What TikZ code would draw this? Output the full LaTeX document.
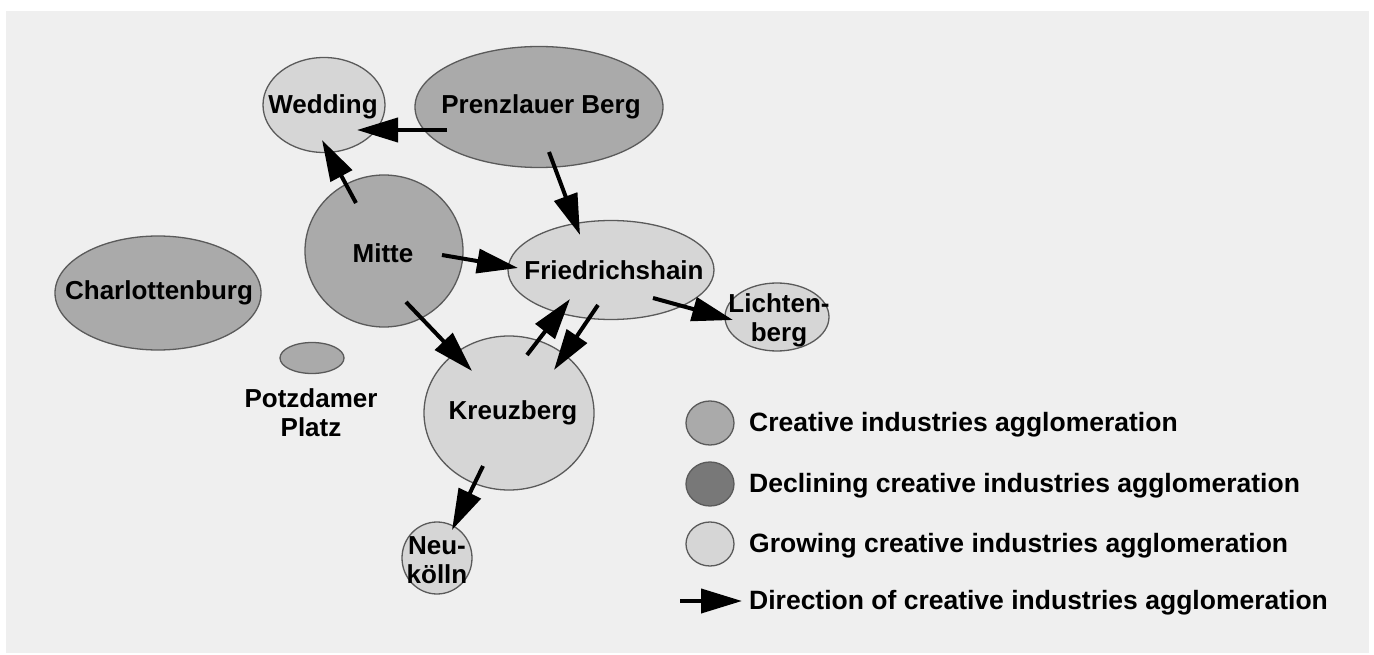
\documentclass[tikz,border=0pt]{standalone}
\usepackage{fontspec}
\setmainfont{Liberation Sans}
\usetikzlibrary{shapes.geometric,arrows.meta}
\definecolor{panel}{HTML}{EFEFEF}
\definecolor{creative}{HTML}{AAAAAA}
\definecolor{declining}{HTML}{787878}
\definecolor{growing}{HTML}{D6D6D6}
\definecolor{rim}{HTML}{5A5A5A}
\tikzset{
  areabox/.style={ellipse, draw=rim, line width=1.3pt, inner sep=0pt, align=center,
    font=\fontsize{26}{29}\selectfont\bfseries},
  creatarea/.style={areabox, fill=creative},
  declarea/.style={areabox, fill=declining},
  growarea/.style={areabox, fill=growing},
  dirarrow/.style={line width=4pt, -{Triangle[length=41pt,width=24pt]}},
  legtext/.style={anchor=west, inner sep=0pt, font=\fontsize{26.5}{29}\selectfont\bfseries},
  plaintext/.style={inner sep=0pt, align=center, font=\fontsize{26}{29}\selectfont\bfseries}
}
\begin{document}
\begin{tikzpicture}[x=1pt,y=-1pt]
\useasboundingbox (0,0) rectangle (1374,655);
\fill[white] (0,0) rectangle (1374,655);
\fill[panel] (6,11) rectangle (1369,653);
% areas
\node[growarea,  minimum width=122pt, minimum height=95pt]  (wed) at (324,105) {};
\node[creatarea, minimum width=248pt, minimum height=121pt] (pb)  at (539,107) {};
\node[creatarea, minimum width=158pt, minimum height=152pt] (mi)  at (384,251) {};
\node[creatarea, minimum width=206pt, minimum height=114pt] (ch)  at (158,293) {};
\node[growarea,  minimum width=206pt, minimum height=99pt]  (fh)  at (611,270) {};
\node[growarea,  minimum width=104pt, minimum height=68pt]  (lb)  at (777,317) {};
\node[creatarea, minimum width=64pt,  minimum height=31pt]  (pp)  at (312,358) {};
\node[growarea,  minimum width=170pt, minimum height=154pt] (kb)  at (509,413) {};
\node[growarea,  minimum width=70pt,  minimum height=72pt]  (nk)  at (437,558) {};
% labels
\node[plaintext] (wedt) at (323,107) {Wedding};
\node[plaintext] (pbt)  at (541,107) {Prenzlauer Berg};
\node[plaintext] (mit)  at (383,253) {Mitte};
\node[plaintext] (cht)  at (159,293) {Charlottenburg};
\node[plaintext] (fht)  at (614,270) {Friedrichshain};
\node[plaintext] (lbt)  at (779,320) {Lichten-\\berg};
\node[plaintext] (ppt)  at (311,413) {Potzdamer\\Platz};
\node[plaintext] (kbt)  at (513,413) {Kreuzberg};
\node[plaintext] (nkt)  at (437,560) {Neu-\\kölln};
% arrows
\draw[dirarrow] ([shift={(-92,23)}]pb.center) -- ([shift={(33,25)}]wed.center);
\draw[dirarrow] ([shift={(-28,-48)}]mi.center) -- ([shift={(-2,35)}]wed.center);
\draw[dirarrow] ([shift={(10,45)}]pb.center) -- ([shift={(-31,-35)}]fh.center);
\draw[dirarrow] ([shift={(58,4)}]mi.center) -- ([shift={(-93,-2)}]fh.center);
\draw[dirarrow] ([shift={(22,51)}]mi.center) -- ([shift={(-37,-42)}]kb.center);
\draw[dirarrow] ([shift={(18,-58)}]kb.center) -- ([shift={(-41,29)}]fh.center);
\draw[dirarrow] ([shift={(-13,35)}]fh.center) -- ([shift={(45,-43)}]kb.center);
\draw[dirarrow] ([shift={(42,28)}]fh.center) -- ([shift={(-44,3)}]lb.center);
\draw[dirarrow] ([shift={(-26,53)}]kb.center) -- ([shift={(15,-28)}]nk.center);
% legend
\node[creatarea, minimum width=48pt, minimum height=44pt] (l1) at (710,423) {};
\node[declarea,  minimum width=48pt, minimum height=44pt] (l2) at (710,484) {};
\node[growarea,  minimum width=48pt, minimum height=44pt] (l3) at (710,544) {};
\coordinate (l4a) at (680,601);
\coordinate (l4b) at (742,601);
\draw[dirarrow] (l4a) -- (l4b);
\node[legtext] (t1) at (749,425) {Creative industries agglomeration};
\node[legtext] (t2) at (749,486) {Declining creative industries agglomeration};
\node[legtext] (t3) at (749,546) {Growing creative industries agglomeration};
\node[legtext] (t4) at (749,603) {Direction of creative industries agglomeration};
\end{tikzpicture}
\end{document}
